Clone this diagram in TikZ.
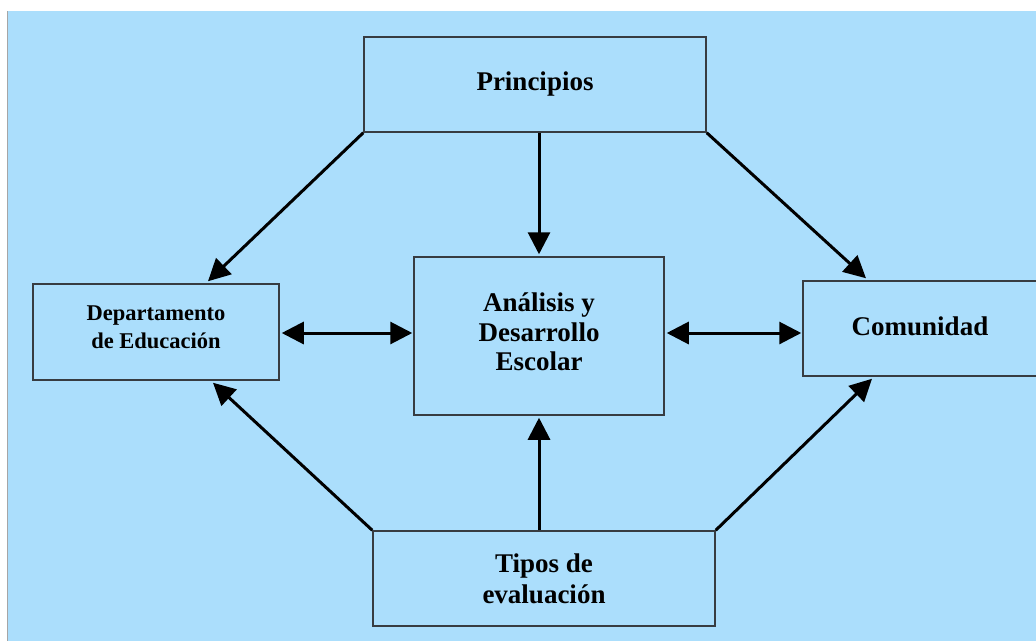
\documentclass[tikz,border=0pt]{standalone}
\usepackage{fontspec}
\setmainfont{Liberation Serif}
\usetikzlibrary{arrows.meta}
\definecolor{bgblue}{RGB}{171,222,252}
\definecolor{boxline}{RGB}{55,60,65}
\tikzset{
  box/.style={draw=boxline, line width=1.5pt, fill=bgblue, inner sep=0pt, align=center,
    font=\fontsize{27}{30}\selectfont\bfseries},
  conn/.style={line width=3pt, black, -{Triangle[length=22pt,width=22pt]}},
  dconn/.style={line width=3pt, black, {Triangle[length=22pt,width=22pt]}-{Triangle[length=22pt,width=22pt]}}
}
\begin{document}
\begin{tikzpicture}[x=1pt,y=-1pt]
\useasboundingbox (0,0) rectangle (1036,641);
\fill[white] (0,0) rectangle (1036,641);
\fill[bgblue] (7,11) rectangle (1036,641);
\draw[line width=1.5pt, gray!70] (7.5,11) -- (7.5,641);
\node[box, minimum width=342pt, minimum height=95pt] (P) at (535,84.5) {Principios};
\node[box, minimum width=246pt, minimum height=96pt, text depth=9pt, font=\fontsize{22.5}{28}\selectfont\bfseries] (D) at (156,332) {Departamento\\de Educación};
\node[box, minimum width=250pt, minimum height=158pt, text depth=8pt, font=\fontsize{27}{29.5}\selectfont\bfseries] (A) at (539,336) {Análisis y\\Desarrollo\\Escolar};
\node[box, minimum width=234pt, minimum height=95pt, text depth=5pt] (C) at (920,328.5) {Comunidad};
\node[box, minimum width=342pt, minimum height=95pt, font=\fontsize{27}{31}\selectfont\bfseries] (T) at (544,578.5) {Tipos de\\evaluación};
% arrows
\draw[conn] (P.south west) -- ([xshift=52pt,yshift=2pt]D.north);
\draw[conn] (P.south -| A.north) -- ([yshift=2pt]A.north);
\draw[conn] (P.south east) -- ([xshift=-54pt,yshift=2pt]C.north);
\draw[conn] (T.north west) -- ([xshift=57pt,yshift=-2pt]D.south);
\draw[conn] (T.north -| A.south) -- ([yshift=-2pt]A.south);
\draw[conn] (T.north east) -- ([xshift=-48pt,yshift=-2pt]C.south);
\draw[dconn] ([xshift=2pt,yshift=-1pt]D.east) -- ([xshift=-1pt,yshift=-1pt]D.east -| A.west);
\draw[dconn] ([xshift=2pt,yshift=3pt]A.east) -- ([xshift=-1pt,yshift=3pt]A.east -| C.west);
\end{tikzpicture}
\end{document}
